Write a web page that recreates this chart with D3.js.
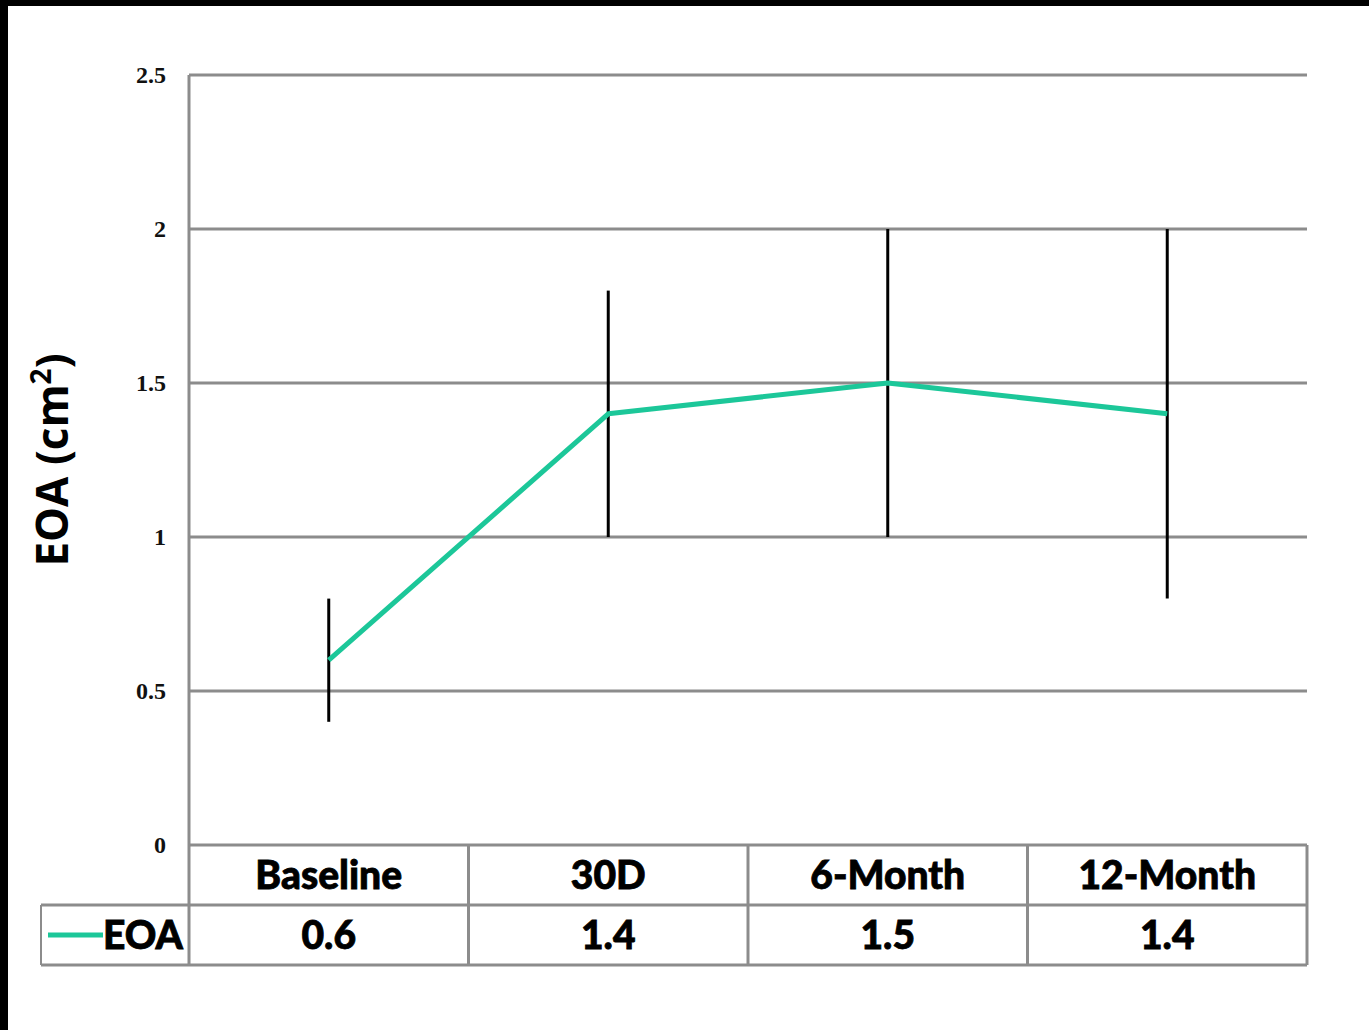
<!DOCTYPE html>
<html>
<head>
<meta charset="utf-8">
<script src="https://cdn.jsdelivr.net/npm/d3@7"></script>
<style>
  html, body { margin: 0; padding: 0; background: #fff; }
  svg { display: block; }
</style>
</head>
<body>
<svg id="chart" width="1369" height="1030"></svg>
<script>
// EOA over follow-up, mean with error range
const categories = ["Baseline", "30D", "6-Month", "12-Month"];
const eoaValues = [0.6, 1.4, 1.5, 1.4];
const errLow = [0.4, 1.0, 1.0, 0.8];
const errHigh = [0.8, 1.8, 2.0, 2.0];
const yTicks = [0, 0.5, 1, 1.5, 2, 2.5];
const seriesName = "EOA";

const W = 1369, H = 1030;
const svg = d3.select("#chart");

// frame bands along top and left edge
svg.append("rect").attr("x", 0).attr("y", 0).attr("width", W).attr("height", 6).attr("fill", "#000");
svg.append("rect").attr("x", 0).attr("y", 0).attr("width", 8).attr("height", H).attr("fill", "#000");

const plot = { left: 189, right: 1307, top: 75, bottom: 845 };
const rowH = 60;
const legendLeft = 41;

const y = d3.scaleLinear().domain([0, 2.5]).range([plot.bottom, plot.top]);
const x = d3.scaleBand().domain(categories).range([plot.left, plot.right]);
const cx = c => x(c) + x.bandwidth() / 2;

const grid = "#8c8c8c";

// horizontal gridlines
svg.append("g").selectAll("line").data(yTicks).join("line")
  .attr("x1", plot.left).attr("x2", plot.right)
  .attr("y1", d => y(d)).attr("y2", d => y(d))
  .attr("stroke", grid).attr("stroke-width", 3);

// y axis line
svg.append("line").attr("x1", plot.left).attr("x2", plot.left)
  .attr("y1", plot.top).attr("y2", plot.bottom + 2 * rowH)
  .attr("stroke", grid).attr("stroke-width", 3);

// tick labels
svg.append("g").selectAll("text").data(yTicks).join("text")
  .attr("x", 166).attr("y", d => y(d))
  .attr("text-anchor", "end").attr("dominant-baseline", "central")
  .attr("font-family", "'Liberation Serif', 'DejaVu Serif', serif")
  .attr("font-weight", "bold").attr("font-size", 24)
  .attr("fill", "#111")
  .text(d => d);

// axis title
const title = svg.append("text")
  .attr("transform", `translate(68,460) rotate(-90)`)
  .attr("text-anchor", "middle")
  .attr("font-family", "'Open Sans', 'DejaVu Sans', sans-serif")
  .attr("font-weight", "bold").attr("font-size", 44)
  .attr("fill", "#000");
title.append("tspan").text("EOA (cm");
title.append("tspan").attr("font-size", 28).attr("dy", -17).text("2");
title.append("tspan").attr("dy", 17).text(")");

// error bars
svg.append("g").selectAll("line").data(categories).join("line")
  .attr("x1", d => cx(d)).attr("x2", d => cx(d))
  .attr("y1", (d, i) => y(errHigh[i])).attr("y2", (d, i) => y(errLow[i]))
  .attr("stroke", "#000").attr("stroke-width", 3);

// series line
const teal = "#1cc799";
const line = d3.line().x((d, i) => cx(categories[i])).y(d => y(d));
svg.append("path").datum(eoaValues)
  .attr("d", line)
  .attr("fill", "none").attr("stroke", teal).attr("stroke-width", 5)
  .attr("stroke-linejoin", "round");

// data table beneath the plot
const tbl = svg.append("g");
const rowTop1 = plot.bottom, rowTop2 = plot.bottom + rowH, rowBot = plot.bottom + 2 * rowH;
const colEdges = categories.map(c => x(c)).concat([plot.right]);

tbl.selectAll("line.v").data(colEdges.slice(1)).join("line")
  .attr("x1", d => d).attr("x2", d => d)
  .attr("y1", rowTop1).attr("y2", rowBot)
  .attr("stroke", grid).attr("stroke-width", 3);
tbl.append("line").attr("x1", legendLeft).attr("x2", plot.right)
  .attr("y1", rowTop2).attr("y2", rowTop2).attr("stroke", grid).attr("stroke-width", 3);
tbl.append("line").attr("x1", legendLeft).attr("x2", plot.right)
  .attr("y1", rowBot).attr("y2", rowBot).attr("stroke", grid).attr("stroke-width", 3);
tbl.append("line").attr("x1", legendLeft).attr("x2", legendLeft)
  .attr("y1", rowTop2).attr("y2", rowBot).attr("stroke", grid).attr("stroke-width", 2);

const cellFont = "Lato, 'Open Sans', sans-serif";
const cellText = sel => sel
  .attr("text-anchor", "middle").attr("dominant-baseline", "central")
  .attr("font-family", cellFont).attr("font-weight", 900).attr("font-size", 39)
  .attr("fill", "#000").attr("stroke", "#000").attr("stroke-width", 0.8);

tbl.selectAll("text.cat").data(categories).join("text")
  .attr("x", d => cx(d)).attr("y", rowTop1 + rowH / 2 - 1)
  .call(cellText)
  .text(d => d);
tbl.selectAll("text.val").data(eoaValues).join("text")
  .attr("x", (d, i) => cx(categories[i])).attr("y", rowTop2 + rowH / 2 - 1)
  .call(cellText)
  .text(d => d.toFixed(1));

// legend key in the table
tbl.append("line").attr("x1", 48).attr("x2", 103)
  .attr("y1", rowTop2 + rowH / 2).attr("y2", rowTop2 + rowH / 2)
  .attr("stroke", teal).attr("stroke-width", 5);
tbl.append("text").attr("x", 143).attr("y", rowTop2 + rowH / 2 - 1)
  .call(cellText)
  .text(seriesName);
</script>
</body>
</html>
